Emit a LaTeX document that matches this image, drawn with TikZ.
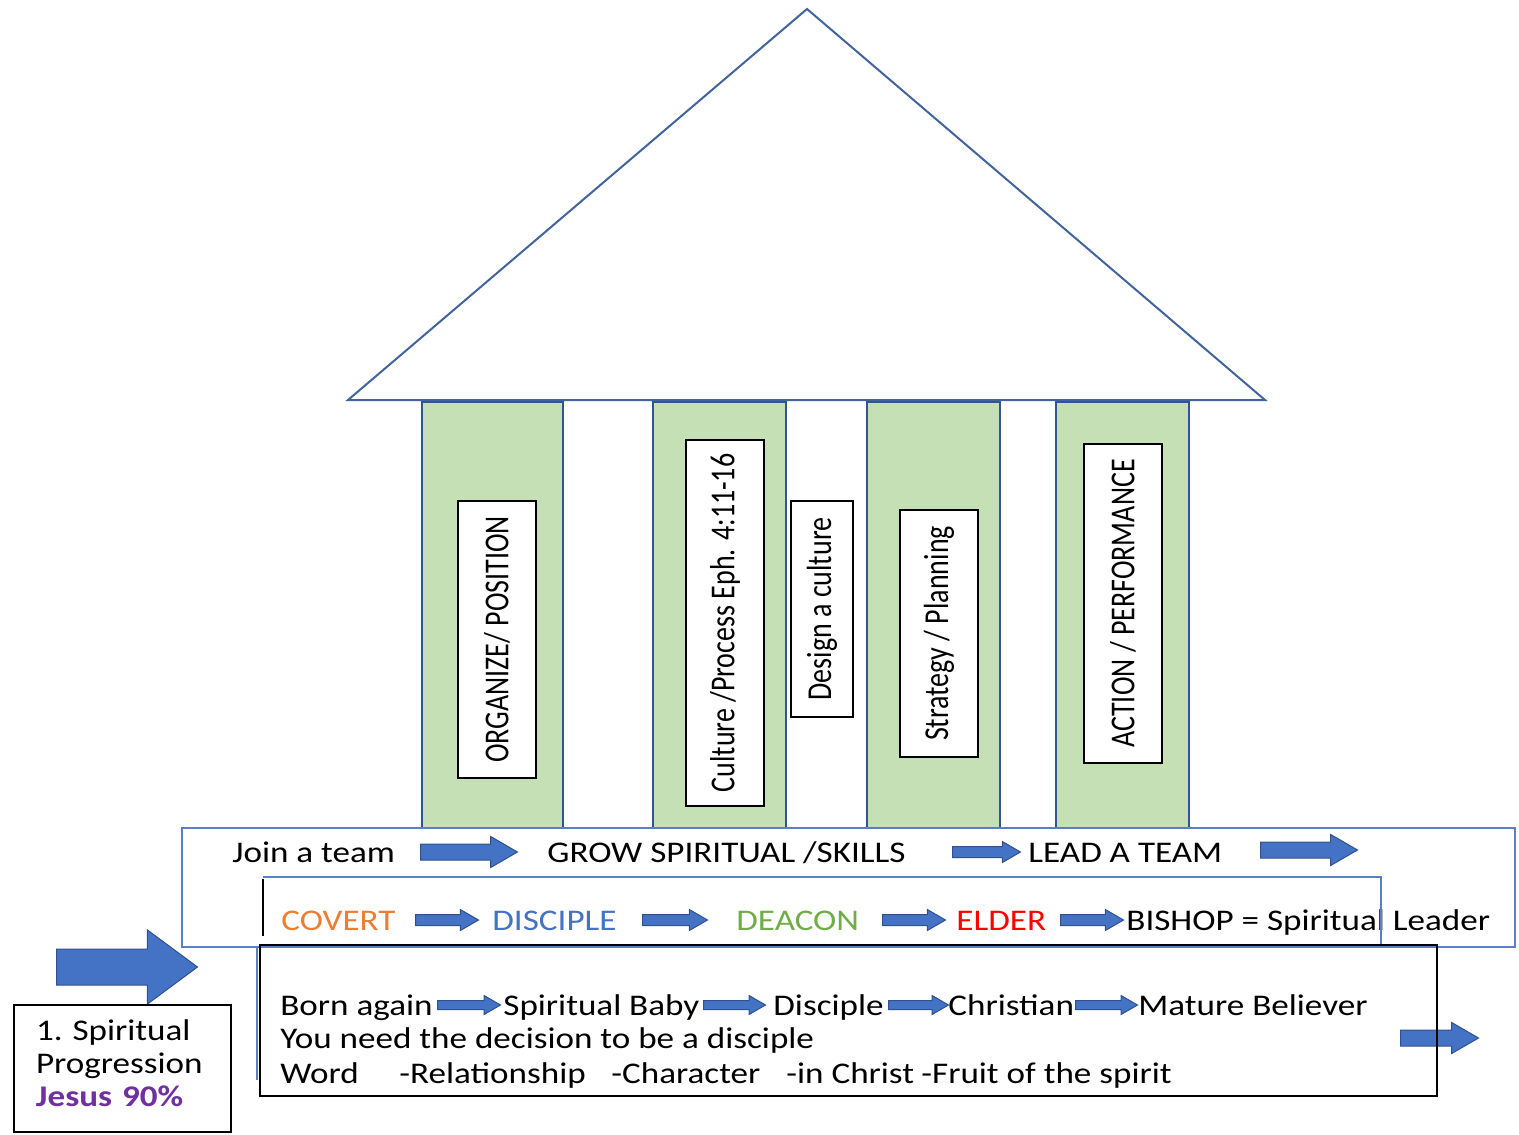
\documentclass[tikz,border=0pt]{standalone}
\usepackage{graphicx}
\usepackage{fontspec}
\setmainfont{Carlito}[FakeStretch=1.17]
\newfontfamily\pillarfont{Carlito}
\usetikzlibrary{positioning, shapes.arrows}

\definecolor{roofblue}{HTML}{41649E}
\definecolor{pillarline}{HTML}{2F5597}
\definecolor{pillargreen}{HTML}{C5E0B4}
\definecolor{bandblue}{HTML}{5B7FC4}
\definecolor{arrowfill}{HTML}{4472C4}
\definecolor{arrowline}{HTML}{2F528F}
\definecolor{covertorange}{HTML}{ED7D31}
\definecolor{discipleblue}{HTML}{4472C4}
\definecolor{deacongreen}{HTML}{70AD47}
\definecolor{jesuspurple}{HTML}{7030A0}
\newcommand\tallword[1]{\scalebox{1}[1.25]{#1}}

\begin{document}
\begin{tikzpicture}[x=0.5pt, y=-0.5pt,
    pillar/.style={draw=pillarline, line width=1.2pt, fill=pillargreen},
    tag/.style={draw=black, line width=0.9pt, fill=white, inner sep=0pt, rotate=90,
        font=\pillarfont\fontsize{14}{16}\selectfont},
    word/.style={anchor=base west, inner sep=0pt, font=\fontsize{15}{18}\selectfont},
    bigarrow/.style={single arrow, anchor=tail, draw=arrowline, fill=arrowfill, line width=0.5pt,
        inner xsep=0pt, inner ysep=3.75pt, single arrow head extend=3.75pt, single arrow tip angle=60},
    thinarrow/.style={bigarrow, inner ysep=2.5pt, single arrow head extend=2.5pt},
    smallarrow/.style={bigarrow, inner ysep=2pt, single arrow head extend=2.5pt}]
\useasboundingbox (0,0) rectangle (1519,1134);

% roof and pillars
\draw[roofblue, line width=1pt, fill=white] (348,400) -- (807,9) -- (1265,400) -- cycle;
\foreach \xa/\xb in {422/563, 653/786, 867/1000, 1056/1189}
    \draw[pillar] (\xa,402) rectangle (\xb,828);

\node[tag, minimum width=138.5pt, minimum height=39pt] (organize) at (497,639.5) {\tallword{ORGANIZE/ POSITION}};
\node[tag, minimum width=183pt, minimum height=39pt] (culture) at (725,623) {\tallword{Culture /Process Eph. 4:11-16}};
\node[tag, minimum width=108pt, minimum height=31pt] (design) at (822,609) {\tallword{Design a culture}};
\node[tag, minimum width=123.5pt, minimum height=39pt] (strategy) at (939,633.5) {\tallword{Strategy / Planning}};
\node[tag, minimum width=159.5pt, minimum height=39pt] (action) at (1123,603.5) {\tallword{ACTION / PERFORMANCE}};

% first band
\draw[bandblue, line width=0.8pt] (182,828) rectangle (1515,947);
\node[word] (join) at (232,862) {Join a team};
\node[word] (grow) at (547,862) {GROW SPIRITUAL /SKILLS};
\node[word] (lead) at (1028,862) {LEAD A TEAM};
\foreach \n/\xa/\cy/\len in {jg/420/852/48.5, next/1260/850/48.5, out/1400/1038/39}
    \node[bigarrow, minimum height=\len pt] (\n) at (\xa,\cy) {};
\node[thinarrow, minimum height=34pt] (gl) at (952,852) {};

% second band
\node[word, text=covertorange] (covert) at (281,930) {COVERT};
\node[word, text=discipleblue] (disciple) at (492,930) {DISCIPLE};
\node[word, text=deacongreen] (deacon) at (736,930) {DEACON};
\node[word, text=red] (elder) at (956,930) {ELDER};
\node[word] (bishop) at (1126,930) {BISHOP = Spiritual Leader};
\foreach \n/\xa/\len in {cd/415/31.5, dd/642/32.5, de/882/31.5, eb/1060/31.5}
    \node[thinarrow, minimum height=\len pt] (\n) at (\xa,920) {};
\draw[bandblue, line width=0.8pt] (263,877) -- (1381,877) -- (1381,947);
\draw[black, line width=1pt] (263,879) -- (263,936);

% third box
\draw[black, line width=1pt] (260,945) rectangle (1437,1096);
\draw[bandblue, line width=0.8pt] (257,947) -- (257,1080);
\node[word] (born) at (280,1015) {Born again};
\node[word] (baby) at (503,1015) {Spiritual Baby};
\node[word] (disc) at (773,1015) {Disciple};
\node[word] (christian) at (948,1015) {Christian};
\node[word] (mature) at (1138,1015) {Mature Believer};
\foreach \n/\xa/\len in {bs/437/31.5, sd/703/31, dc/888/30, cm/1075/31}
    \node[smallarrow, minimum height=\len pt] (\n) at (\xa,1005) {};
\node[word] (decision) at (280,1048) {You need the decision to be a disciple};
\foreach \n/\x/\t in {w1/280/Word, w2/399/-Relationship, w3/611/-Character, w4/786/-in Christ, w5/921/-Fruit of the spirit}
    \node[word] (\n) at (\x,1083) {\t};

% progression
\node[single arrow, anchor=tail, draw=arrowline, fill=arrowfill, line width=0.5pt, inner xsep=0pt,
    inner ysep=8.75pt, minimum height=70.5pt, single arrow head extend=9.5pt,
    single arrow tip angle=73] (push) at (56,967) {};
\node[draw, fill=white, line width=1pt, anchor=north west, minimum height=63.5pt,
    text width=86.5pt, inner xsep=11pt, align=left, font=\fontsize{15}{16.5}\selectfont]
    (progress) at (13,1004) {1.\ Spiritual\\Progression\\\textbf{\color{jesuspurple}Jesus 90\%}\rule[-5pt]{0pt}{0pt}};
\end{tikzpicture}
\end{document}
